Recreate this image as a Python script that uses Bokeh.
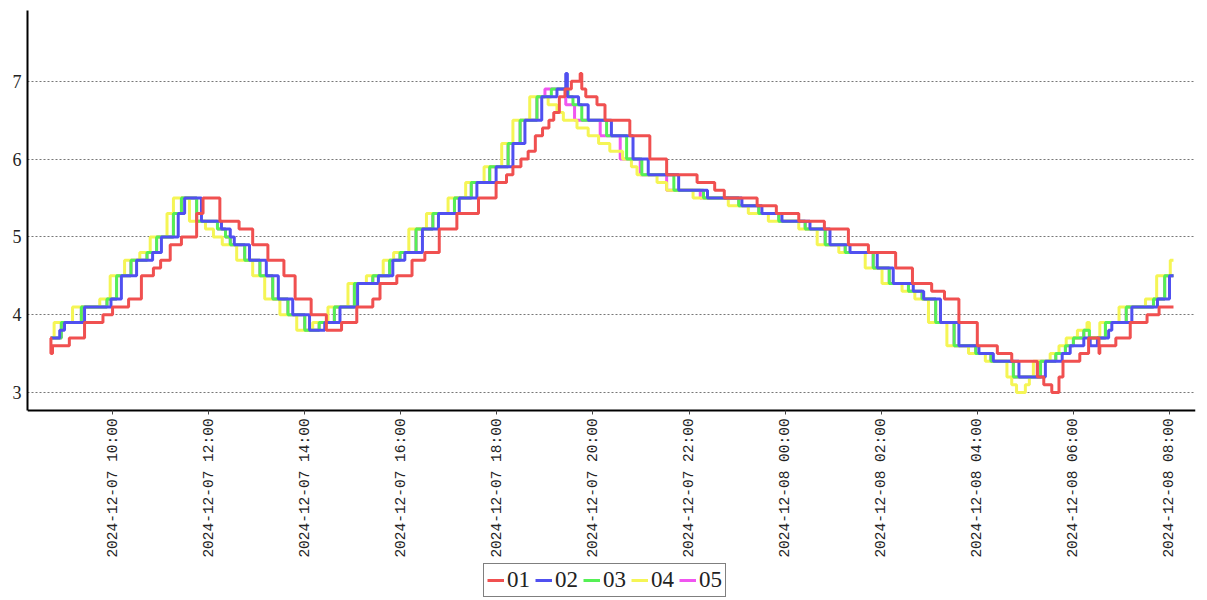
import pandas as pd
from math import pi
from bokeh.plotting import figure
from bokeh.models import Range1d, FixedTicker, DatetimeTickFormatter, Legend, LegendItem
from bokeh.embed import file_html
from bokeh.resources import INLINE

D1 = "2024-12-07 "
D2 = "2024-12-08 "

names = ["01", "02", "03", "04", "05"]
colors = ["#f05050", "#5050f0", "#55f055", "#f5f555", "#f055f0"]

t01 = [D1 + s for s in ["08:42", "08:43", "08:45", "09:06", "09:25", "09:48", "10:00", "10:20", "10:36", "10:51",
                        "11:00", "11:12", "11:26", "11:45", "11:53", "12:14", "12:38", "12:55", "13:14", "13:34",
                        "13:48", "14:08", "14:27", "14:46", "15:05", "15:25", "15:34", "15:55", "16:14", "16:30",
                        "16:48", "17:10", "17:37", "17:59", "18:12", "18:20", "18:30", "18:39", "18:48", "18:57",
                        "19:05", "19:11", "19:18", "19:25", "19:33", "19:44", "19:46", "19:51", "20:05", "20:15",
                        "20:46", "21:11", "21:32", "22:10", "22:32", "22:44", "23:25", "23:49"]] + \
      [D2 + s for s in ["00:17", "00:49", "01:19", "01:44", "02:18", "02:39", "03:03", "03:19", "03:37", "04:00",
                        "04:25", "04:43", "05:15", "05:23", "05:33", "05:42", "05:47", "06:08", "06:19", "06:32",
                        "06:33", "06:53", "07:11", "07:32", "07:47", "08:05"]]
v01 = [3.7, 3.5, 3.6, 3.7, 3.9, 4.0, 4.1, 4.2, 4.5, 4.6,
       4.7, 4.9, 5.0, 5.3, 5.5, 5.2, 5.1, 4.9, 4.7, 4.5,
       4.2, 4.0, 3.8, 3.9, 4.1, 4.2, 4.4, 4.5, 4.7, 4.8,
       5.1, 5.3, 5.5, 5.7, 5.8, 5.9, 6.0, 6.1, 6.3, 6.4,
       6.5, 6.6, 6.8, 6.9, 7.0, 7.1, 6.9, 6.8, 6.7, 6.5,
       6.3, 6.0, 5.8, 5.7, 5.6, 5.5, 5.4, 5.3,
       5.2, 5.1, 4.9, 4.8, 4.6, 4.4, 4.3, 4.2, 3.9, 3.6,
       3.5, 3.4, 3.2, 3.1, 3.0, 3.2, 3.4, 3.5, 3.7, 3.5,
       3.6, 3.7, 3.9, 4.0, 4.1, 4.1]

t02 = [D1 + s for s in ["08:43", "08:54", "09:00", "09:25", "09:58", "10:11", "10:30", "10:50", "11:01", "11:22",
                        "11:30", "11:51", "12:16", "12:27", "12:32", "12:51", "13:12", "13:27", "13:45", "14:06",
                        "14:25", "14:44", "15:06", "15:32", "15:50", "16:05", "16:27", "16:47", "17:13", "17:35",
                        "17:59", "18:20", "18:35", "18:56", "19:15", "19:26", "19:28", "19:42", "19:54", "20:23",
                        "20:50", "21:09", "21:47", "22:23", "23:06", "23:31", "23:56"]] + \
      [D2 + s for s in ["00:31", "00:56", "01:21", "01:55", "02:15", "02:40", "02:53", "03:14", "03:37", "04:02",
                        "04:20", "04:52", "05:25", "05:46", "05:56", "06:13", "06:21", "06:30", "06:44", "06:48",
                        "07:13", "07:45", "08:00", "08:05"]]
v02 = [3.7, 3.8, 3.9, 4.1, 4.2, 4.5, 4.7, 4.8, 5.0, 5.3,
       5.5, 5.2, 5.1, 5.0, 4.9, 4.7, 4.5, 4.2, 4.0, 3.8,
       3.9, 4.1, 4.4, 4.5, 4.7, 4.8, 5.1, 5.3, 5.5, 5.7,
       5.9, 6.2, 6.5, 6.8, 6.9, 7.1, 6.8, 6.7, 6.5, 6.3,
       6.0, 5.8, 5.6, 5.5, 5.4, 5.3, 5.2,
       5.1, 4.9, 4.8, 4.6, 4.4, 4.3, 4.2, 3.9, 3.6, 3.5,
       3.4, 3.2, 3.4, 3.5, 3.6, 3.7, 3.6, 3.7, 3.8, 3.9,
       4.1, 4.2, 4.5, 4.5]

t03 = [D1 + s for s in ["08:43", "08:56", "09:21", "09:53", "10:05", "10:23", "10:43", "10:55", "11:16", "11:26",
                        "11:45", "12:11", "12:21", "12:27", "12:45", "13:04", "13:20", "13:39", "14:00", "14:18",
                        "14:37", "15:02", "15:25", "15:46", "15:59", "16:19", "16:40", "17:07", "17:28", "17:51",
                        "18:14", "18:29", "18:50", "19:08", "19:29", "19:35", "19:46", "20:17", "20:42", "21:01",
                        "21:41", "22:18", "23:02", "23:27", "23:52"]] + \
      [D2 + s for s in ["00:25", "00:50", "01:15", "01:50", "02:10", "02:34", "02:51", "03:08", "03:31", "03:58",
                        "04:17", "04:45", "05:19", "05:38", "05:50", "06:00", "06:13", "06:20", "06:40", "07:06",
                        "07:40", "07:54", "08:05"]]
v03 = [3.7, 3.9, 4.1, 4.2, 4.5, 4.7, 4.8, 5.0, 5.3, 5.5,
       5.2, 5.1, 5.0, 4.9, 4.7, 4.5, 4.2, 4.0, 3.8, 3.9,
       4.1, 4.4, 4.5, 4.7, 4.8, 5.1, 5.3, 5.5, 5.7, 5.9,
       6.2, 6.5, 6.8, 6.9, 6.8, 6.7, 6.5, 6.3, 6.0, 5.8,
       5.6, 5.5, 5.4, 5.3, 5.2,
       5.1, 4.9, 4.8, 4.6, 4.4, 4.3, 4.2, 3.9, 3.6, 3.5,
       3.4, 3.2, 3.4, 3.5, 3.6, 3.7, 3.8, 3.7, 3.9, 4.1,
       4.2, 4.5, 4.5]

t04 = [D1 + s for s in ["08:43", "08:47", "09:10", "09:44", "09:57", "10:15", "10:34", "10:47", "11:08", "11:16",
                        "11:36", "11:56", "12:06", "12:17", "12:35", "12:55", "13:10", "13:29", "13:50", "14:10",
                        "14:29", "14:54", "15:17", "15:38", "15:51", "16:10", "16:32", "16:59", "17:21", "17:44",
                        "18:06", "18:20", "18:41", "19:04", "19:15", "19:23", "19:40", "19:54", "20:07", "20:21",
                        "20:37", "20:48", "20:55", "21:20", "21:32", "22:05", "22:49", "23:14", "23:39"]] + \
      [D2 + s for s in ["00:17", "00:40", "01:07", "01:40", "02:01", "02:26", "02:42", "02:59", "03:22", "03:49",
                        "04:10", "04:37", "04:43", "04:49", "05:00", "05:05", "05:10", "05:31", "05:42", "05:51",
                        "06:05", "06:17", "06:20", "06:33", "06:57", "07:30", "07:44", "08:01", "08:05"]]
v04 = [3.7, 3.9, 4.1, 4.2, 4.5, 4.7, 4.8, 5.0, 5.3, 5.5,
       5.2, 5.1, 5.0, 4.9, 4.7, 4.5, 4.2, 4.0, 3.8, 3.9,
       4.1, 4.4, 4.5, 4.7, 4.8, 5.1, 5.3, 5.5, 5.7, 5.9,
       6.2, 6.5, 6.8, 6.7, 6.6, 6.5, 6.4, 6.3, 6.2, 6.1,
       6.0, 5.9, 5.8, 5.7, 5.6, 5.5, 5.4, 5.3, 5.2,
       5.1, 4.9, 4.8, 4.6, 4.4, 4.3, 4.2, 3.9, 3.6, 3.5,
       3.4, 3.2, 3.1, 3.0, 3.1, 3.2, 3.4, 3.5, 3.6, 3.7,
       3.8, 3.9, 3.7, 3.9, 4.1, 4.2, 4.5, 4.7, 4.7]

t05 = [D1 + s for s in ["08:43", "08:56", "09:21", "09:53", "10:05", "10:23", "10:43", "10:55", "11:16", "11:26",
                        "11:45", "12:11", "12:21", "12:27", "12:45", "13:04", "13:20", "13:39", "14:00", "14:18",
                        "14:37", "15:02", "15:25", "15:46", "15:59", "16:19", "16:40", "17:07", "17:28", "17:51",
                        "18:14", "18:29", "18:50", "19:00", "19:26", "19:37", "20:09", "20:34", "20:59", "21:32",
                        "22:14", "23:02", "23:27", "23:52"]] + \
      [D2 + s for s in ["00:25", "00:50", "01:15", "01:50", "02:10", "02:34", "02:51", "03:08", "03:31", "03:58",
                        "04:17", "04:45", "05:15", "05:38", "05:50", "06:00", "06:13", "06:20", "06:40", "07:06",
                        "07:40", "07:54", "08:05"]]
v05 = [3.7, 3.9, 4.1, 4.2, 4.5, 4.7, 4.8, 5.0, 5.3, 5.5,
       5.2, 5.1, 5.0, 4.9, 4.7, 4.5, 4.2, 4.0, 3.8, 3.9,
       4.1, 4.4, 4.5, 4.7, 4.8, 5.1, 5.3, 5.5, 5.7, 5.9,
       6.2, 6.5, 6.8, 6.9, 6.7, 6.5, 6.3, 6.0, 5.8, 5.6,
       5.5, 5.4, 5.3, 5.2,
       5.1, 4.9, 4.8, 4.6, 4.4, 4.3, 4.2, 3.9, 3.6, 3.5,
       3.4, 3.2, 3.4, 3.5, 3.6, 3.7, 3.8, 3.7, 3.9, 4.1,
       4.2, 4.5, 4.5]

x_ticks = [D1 + "10:00", D1 + "12:00", D1 + "14:00", D1 + "16:00", D1 + "18:00", D1 + "20:00",
           D1 + "22:00", D2 + "00:00", D2 + "02:00", D2 + "04:00", D2 + "06:00", D2 + "08:00"]
y_ticks = [3, 4, 5, 6, 7]

x_start = pd.Timestamp(D1 + "08:13:45")
x_end = pd.Timestamp(D2 + "08:32:30")
y_low, y_high = 2.77, 7.91          # visible value range of the plotting area
y_canvas_low = 0.326                 # extends the frame down so axis labels and legend sit inside it

p = figure(width=1207, height=600, x_axis_type="datetime", output_backend="svg",
           toolbar_location=None,
           x_range=Range1d(x_start, x_end), y_range=Range1d(y_canvas_low, y_high),
           min_border_left=27, min_border_right=12, min_border_top=10, min_border_bottom=0)
p.outline_line_color = None
p.background_fill_color = "white"
p.border_fill_color = "white"

series = [(t01, v01), (t02, v02), (t03, v03), (t04, v04), (t05, v05)]
renderers = {}
for i in [4, 3, 2, 1, 0]:
    t, v = series[i]
    r = p.step(x=pd.to_datetime(t), y=v, mode="after", line_color=colors[i], line_width=3)
    renderers[i] = r

# x axis drawn at the bottom of the value range
p.xaxis.fixed_location = y_low
p.xaxis.ticker = FixedTicker(ticks=[pd.Timestamp(s).value / 1e6 for s in x_ticks])
fmt = "%Y-%m-%d %H:%M"
p.xaxis.formatter = DatetimeTickFormatter(hours=fmt, hourmin=fmt, days=fmt, minutes=fmt, minsec=fmt,
                                          months=fmt, years=fmt, seconds=fmt, milliseconds=fmt, microseconds=fmt)
p.xaxis.major_label_orientation = pi / 2
p.xaxis.major_label_text_font = "Liberation Mono"
p.xaxis.major_label_text_font_size = "14.5px"
p.xaxis.major_label_text_color = "#222222"
p.xaxis.major_tick_out = 4
p.xaxis.major_tick_in = 0
p.xaxis.minor_tick_out = 0
p.xaxis.minor_tick_in = 0
p.xaxis.axis_line_width = 2
p.xaxis.axis_line_color = "black"
p.xaxis.major_tick_line_color = "#444444"
p.xaxis.major_label_standoff = 4

p.yaxis.bounds = (y_low, y_high)
p.yaxis.ticker = FixedTicker(ticks=y_ticks)
p.yaxis.major_label_text_font = "Liberation Serif"
p.yaxis.major_label_text_font_size = "18px"
p.yaxis.major_label_text_color = "#222222"
p.yaxis.major_tick_out = 0
p.yaxis.major_tick_in = 0
p.yaxis.minor_tick_out = 0
p.yaxis.minor_tick_in = 0
p.yaxis.axis_line_width = 2
p.yaxis.axis_line_color = "black"
p.yaxis.major_label_standoff = 6

p.xgrid.grid_line_color = None
p.ygrid.grid_line_color = "#777777"
p.ygrid.grid_line_dash = "2 2"
p.ygrid.grid_line_width = 1

legend = Legend(items=[LegendItem(label=names[i], renderers=[renderers[i]]) for i in range(5)],
                orientation="horizontal", location=(456, 3),
                label_text_font="Liberation Serif", label_text_font_size="23px",
                label_text_color="#222222",
                glyph_width=17, glyph_height=18, label_standoff=3, spacing=5,
                padding=3, margin=0,
                border_line_color="black", border_line_width=1, background_fill_alpha=1)
p.add_layout(legend, "center")

open("out.html", "w").write(file_html(p, INLINE))
